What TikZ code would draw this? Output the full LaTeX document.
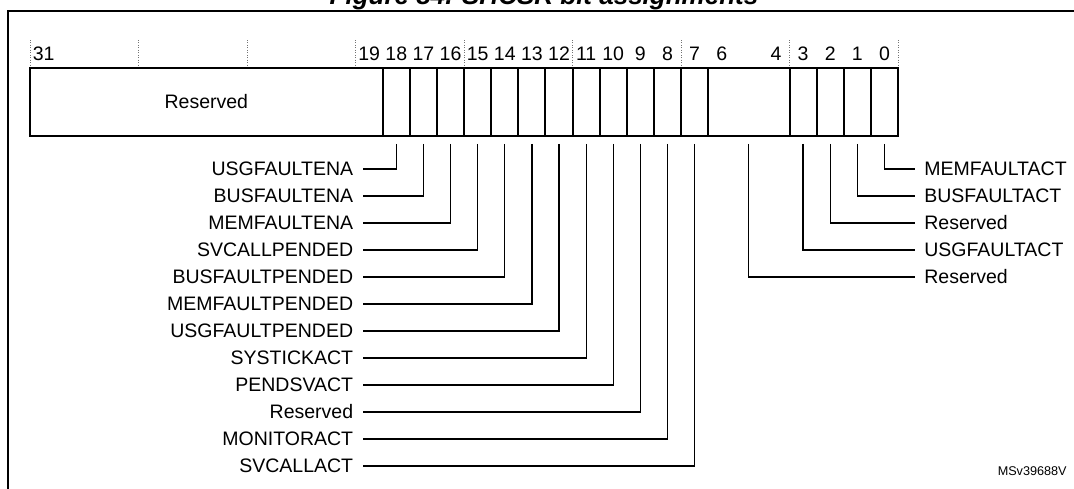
\documentclass[tikz,border=0pt]{standalone}
\usepackage{fontspec}
\setmainfont{Liberation Sans}
\begin{document}
\begin{tikzpicture}[
  x=0.02cm, y=-0.02cm,
  font=\fontsize{11.1}{13}\selectfont,
  frame/.style={line width=1.1pt},
  cell/.style={draw,line width=1.1pt,minimum width=0.5424cm,
    minimum height=1.36cm,inner sep=0pt},
  bitno/.style={inner sep=0pt},
  guide/.style={densely dotted,line width=0.4pt,draw=black!55},
  lbl/.style={inner xsep=0.18cm,inner ysep=0pt},
  lead/.style={line width=0.7pt,shorten <=0.14cm}
]
  \useasboundingbox (0,0) rectangle (1074,488);

  % caption (cut by the page top) and frame
  \node[font=\fontsize{14.8}{16}\selectfont\bfseries\itshape,anchor=base,inner sep=0pt]
    (title) at (544,4) {Figure 84. SHCSR bit assignments};
  \draw[frame] (8,520) -- (8,11) -- (1090,11);

  % nibble guides above the register
  \draw[guide] (30.16,40) -- (30.16,68);
  \draw[guide] (138.64,40) -- (138.64,68);
  \draw[guide] (247.12,40) -- (247.12,68);
  \draw[guide] (355.6,40) -- (355.6,68);
  \draw[guide] (464.08,40) -- (464.08,68);
  \draw[guide] (572.56,40) -- (572.56,68);
  \draw[guide] (681.04,40) -- (681.04,68);
  \draw[guide] (789.52,40) -- (789.52,68);
  \draw[guide] (898,40) -- (898,68);

  % register fields
  \node[cell,minimum width=7.0544cm] (res) at (206.36,102) {Reserved};
  \node[cell] (b18) at (396.28,102) {};
  \node[cell] (b17) at (423.40,102) {};
  \node[cell] (b16) at (450.52,102) {};
  \node[cell] (b15) at (477.64,102) {};
  \node[cell] (b14) at (504.76,102) {};
  \node[cell] (b13) at (531.88,102) {};
  \node[cell] (b12) at (559.00,102) {};
  \node[cell] (b11) at (586.12,102) {};
  \node[cell] (b10) at (613.24,102) {};
  \node[cell] (b9) at (640.36,102) {};
  \node[cell] (b8) at (667.48,102) {};
  \node[cell] (b7) at (694.60,102) {};
  \node[cell,minimum width=1.6272cm] (b6) at (748.84,102) {};
  \node[cell] (b3) at (803.08,102) {};
  \node[cell] (b2) at (830.20,102) {};
  \node[cell] (b1) at (857.32,102) {};
  \node[cell] (b0) at (884.44,102) {};

  % bit numbers
  \node[bitno] (n31) at (43.72,54) {31};
  \node[bitno] (n19) at (369.16,54) {19};
  \node[bitno] (n18) at (b18 |- 0,54) {18};
  \node[bitno] (n17) at (b17 |- 0,54) {17};
  \node[bitno] (n16) at (b16 |- 0,54) {16};
  \node[bitno] (n15) at (b15 |- 0,54) {15};
  \node[bitno] (n14) at (b14 |- 0,54) {14};
  \node[bitno] (n13) at (b13 |- 0,54) {13};
  \node[bitno] (n12) at (b12 |- 0,54) {12};
  \node[bitno] (n11) at (b11 |- 0,54) {11};
  \node[bitno] (n10) at (b10 |- 0,54) {10};
  \node[bitno] (n9) at (b9 |- 0,54) {9};
  \node[bitno] (n8) at (b8 |- 0,54) {8};
  \node[bitno] (n7) at (b7 |- 0,54) {7};
  \node[bitno] (n6) at (721.72,54) {6};
  \node[bitno] (n4) at (775.96,54) {4};
  \node[bitno] (n3) at (b3 |- 0,54) {3};
  \node[bitno] (n2) at (b2 |- 0,54) {2};
  \node[bitno] (n1) at (b1 |- 0,54) {1};
  \node[bitno] (n0) at (b0 |- 0,54) {0};

  % field names, left side
  \node[lbl,anchor=east] (usgena) at (362.5,169) {USGFAULTENA};
  \node[lbl,anchor=east] (busena) at (362.5,196) {BUSFAULTENA};
  \node[lbl,anchor=east] (memena) at (362.5,223) {MEMFAULTENA};
  \node[lbl,anchor=east] (svcpnd) at (362.5,250) {SVCALLPENDED};
  \node[lbl,anchor=east] (buspnd) at (362.5,277) {BUSFAULTPENDED};
  \node[lbl,anchor=east] (mempnd) at (362.5,304) {MEMFAULTPENDED};
  \node[lbl,anchor=east] (usgpnd) at (362.5,331) {USGFAULTPENDED};
  \node[lbl,anchor=east] (systick) at (362.5,358) {SYSTICKACT};
  \node[lbl,anchor=east] (pendsv) at (362.5,385) {PENDSVACT};
  \node[lbl,anchor=east] (rsv9) at (362.5,412) {Reserved};
  \node[lbl,anchor=east] (monact) at (362.5,439) {MONITORACT};
  \node[lbl,anchor=east] (svcact) at (362.5,466) {SVCALLACT};

  % field names, right side
  \node[lbl,anchor=west] (memact) at (915,169) {MEMFAULTACT};
  \node[lbl,anchor=west] (busact) at (915,196) {BUSFAULTACT};
  \node[lbl,anchor=west] (rsv2) at (915,223) {Reserved};
  \node[lbl,anchor=west] (usgact) at (915,250) {USGFAULTACT};
  \node[lbl,anchor=west] (rsv4) at (915,277) {Reserved};

  \draw[lead] (b18.south) |- (usgena.east);
  \draw[lead] (b17.south) |- (busena.east);
  \draw[lead] (b16.south) |- (memena.east);
  \draw[lead] (b15.south) |- (svcpnd.east);
  \draw[lead] (b14.south) |- (buspnd.east);
  \draw[lead] (b13.south) |- (mempnd.east);
  \draw[lead] (b12.south) |- (usgpnd.east);
  \draw[lead] (b11.south) |- (systick.east);
  \draw[lead] (b10.south) |- (pendsv.east);
  \draw[lead] (b9.south) |- (rsv9.east);
  \draw[lead] (b8.south) |- (monact.east);
  \draw[lead] (b7.south) |- (svcact.east);
  \draw[lead] (b0.south) |- (memact.west);
  \draw[lead] (b1.south) |- (busact.west);
  \draw[lead] (b2.south) |- (rsv2.west);
  \draw[lead] (b3.south) |- (usgact.west);
  \draw[lead] (b6.south) |- (rsv4.west);

  \node[font=\fontsize{7.2}{9}\selectfont,anchor=east,inner sep=0pt] (ref) at (1067,471) {MSv39688V};
\end{tikzpicture}
\end{document}
